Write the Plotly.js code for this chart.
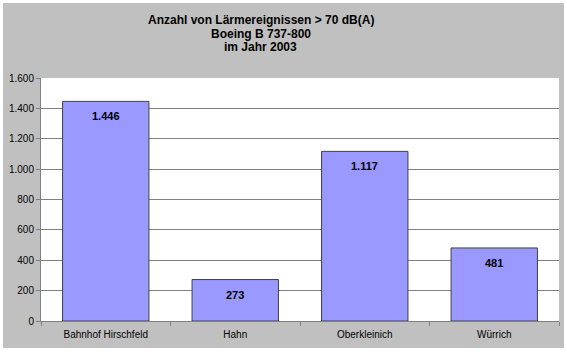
<!DOCTYPE html>
<html><head><meta charset="utf-8">
<script src="https://cdn.plot.ly/plotly-3.0.1.min.js"></script>
<style>html,body{margin:0;padding:0;background:#fff;}#chart{position:absolute;left:3px;top:3px;width:561px;height:345px;}</style>
</head><body><div id="chart"></div>
<script>
const categories = ["Bahnhof Hirschfeld", "Hahn", "Oberkleinich", "Würrich"];
const values = [1446, 273, 1117, 481];
const yTickVals = [0, 200, 400, 600, 800, 1000, 1200, 1400, 1600];
const titleLines = ["Anzahl von Lärmereignissen > 70 dB(A)", "Boeing B 737-800", "im Jahr 2003"];

function de(n){ return String(n).replace(/\B(?=(\d{3})+(?!\d))/g, "."); }

const trace = {
  type: 'bar', x: categories, y: values,
  marker: {color: '#9999ff', line: {color: '#404040', width: 1}},
  hoverinfo: 'none'
};
const annotations = categories.map((c, i) => ({
  x: c, y: values[i], xref: 'x', yref: 'y', text: '<b>' + de(values[i]) + '</b>',
  showarrow: false, yanchor: 'middle', yshift: -15,
  font: {family: 'Liberation Sans, Arial', size: 11, color: '#000'}
}));
// title lines placed above the plot area (paper coords)
const titleY = [1.2387, 1.1811, 1.1276];
titleLines.forEach((t, i) => annotations.push({
  xref: 'paper', yref: 'paper', x: 0.4247, y: titleY[i], xanchor: 'center', yanchor: 'middle',
  text: '<b>' + t + '</b>', showarrow: false,
  font: {family: 'Liberation Sans, Arial', size: 12, color: '#000'}
}));
const layout = {
  width: 561, height: 345,
  paper_bgcolor: '#c0c0c0', plot_bgcolor: '#ffffff',
  margin: {l: 38, r: 5, t: 75, b: 27},
  separators: ',.',
  showlegend: false,
  bargap: 0.333,
  font: {family: 'Liberation Sans, Arial', size: 10, color: '#000'},
  title: {text: ''},
  xaxis: {
    type: 'category', tickson: 'boundaries', ticks: 'outside', ticklen: 4, tickcolor: '#808080',
    showline: true, linecolor: '#808080', linewidth: 1, showgrid: false,
    ticklabelstandoff: 4,
    tickfont: {size: 10}
  },
  yaxis: {
    range: [0, 1600], tickvals: yTickVals, tickformat: ',d',
    ticks: 'outside', ticklen: 4, tickcolor: '#808080',
    showline: true, linecolor: '#808080', linewidth: 1,
    showgrid: true, gridcolor: '#808080', gridwidth: 1, zeroline: false,
    tickfont: {size: 10}
  },
  annotations: annotations
};
Plotly.newPlot('chart', [trace], layout, {displayModeBar: false, staticPlot: true});
</script></body></html>
